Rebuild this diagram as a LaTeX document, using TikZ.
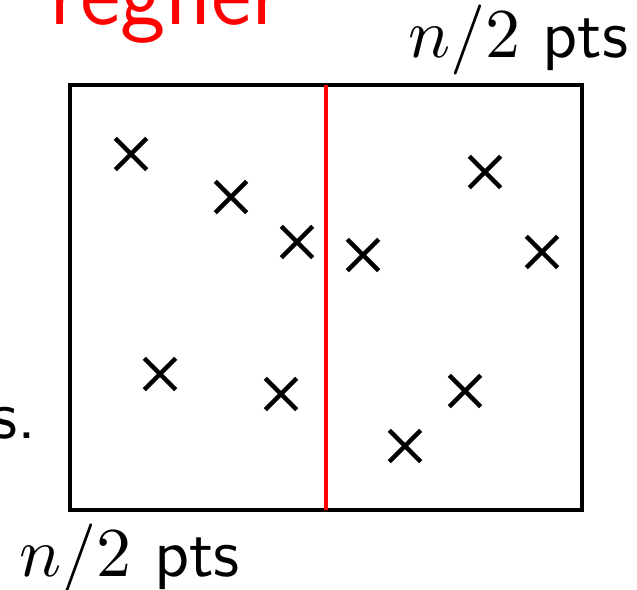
\documentclass[tikz,border=0pt]{standalone}
\usetikzlibrary{shapes.misc}
\begin{document}
\sffamily
\begin{tikzpicture}[x=0.15625pt,y=-0.15625pt,line width=.5pt,font=\fontsize{10.6}{13}\selectfont,
  kryds/.style={cross out,draw,line width=.7pt,minimum size=4.2pt,inner sep=0pt}]
\useasboundingbox (0,0) rectangle (637,589); \clip (0,0) rectangle (637,589);
\draw (70,85) rectangle (582,510); \draw[red,line width=.55pt] (326,85)--(326,510);
\foreach \x/\y [count=\i] in {131/154,231/197,297/242,160/374,281/394,363/255,485/172,542/252,465/391,405/446}
  \node[kryds] (p\i) at (\x,\y) {};
\node[red,anchor=base west,inner sep=0pt,font=\fontsize{14.4}{17}\selectfont] (titel) at (48,24) {regner};
\node[anchor=base east,inner sep=0pt] (top) at (630,57) {$n/2$ pts};
\node[anchor=base west,inner sep=0pt] (bund) at (18,576) {$n/2$ pts};
\node[anchor=base east,inner sep=0pt] (venstre) at (38,438) {s.};
\end{tikzpicture}
\end{document}
